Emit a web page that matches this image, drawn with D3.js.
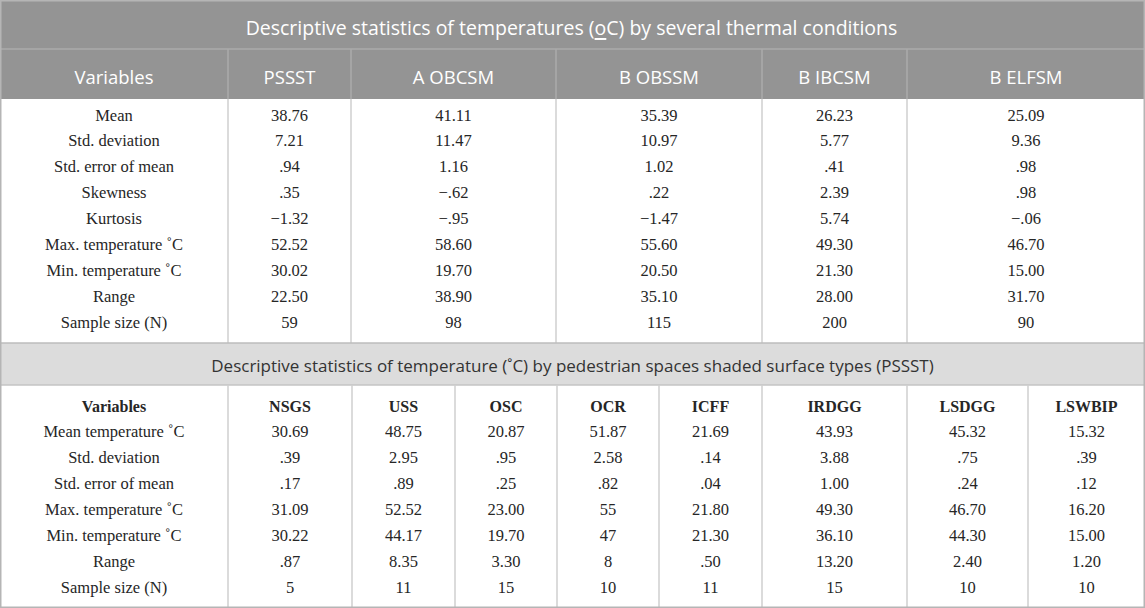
<!DOCTYPE html>
<html>
<head>
<meta charset="utf-8">
<script src="https://cdn.jsdelivr.net/npm/d3@7"></script>
<style>
  body { margin: 0; background: #fff; }
  svg { display: block; }
</style>
</head>
<body>
<div id="table"></div>
<script>
// ---- data: table 1 (thermal conditions) ----
var topTitle = ["Descriptive statistics of temperatures (", "o", "C) by several thermal conditions"];
var topColumns = ["Variables", "PSSST", "A OBCSM", "B OBSSM", "B IBCSM", "B ELFSM"];
var topRows = ["Mean", "Std. deviation", "Std. error of mean", "Skewness", "Kurtosis",
  "Max. temperature \u02DAC", "Min. temperature \u02DAC", "Range", "Sample size (N)"];
var pssst  = ["38.76", "7.21", ".94", ".35", "\u22121.32", "52.52", "30.02", "22.50", "59"];
var aObcsm = ["41.11", "11.47", "1.16", "\u2212.62", "\u2212.95", "58.60", "19.70", "38.90", "98"];
var bObssm = ["35.39", "10.97", "1.02", ".22", "\u22121.47", "55.60", "20.50", "35.10", "115"];
var bIbcsm = ["26.23", "5.77", ".41", "2.39", "5.74", "49.30", "21.30", "28.00", "200"];
var bElfsm = ["25.09", "9.36", ".98", ".98", "\u2212.06", "46.70", "15.00", "31.70", "90"];

// ---- data: table 2 (shaded surface types) ----
var bottomTitle = "Descriptive statistics of temperature (\u02DAC) by pedestrian spaces shaded surface types (PSSST)";
var bottomColumns = ["Variables", "NSGS", "USS", "OSC", "OCR", "ICFF", "IRDGG", "LSDGG", "LSWBIP"];
var bottomRows = ["Mean temperature \u02DAC", "Std. deviation", "Std. error of mean",
  "Max. temperature \u02DAC", "Min. temperature \u02DAC", "Range", "Sample size (N)"];
var nsgs   = ["30.69", ".39", ".17", "31.09", "30.22", ".87", "5"];
var uss    = ["48.75", "2.95", ".89", "52.52", "44.17", "8.35", "11"];
var osc    = ["20.87", ".95", ".25", "23.00", "19.70", "3.30", "15"];
var ocr    = ["51.87", "2.58", ".82", "55", "47", "8", "10"];
var icff   = ["21.69", ".14", ".04", "21.80", "21.30", ".50", "11"];
var irdgg  = ["43.93", "3.88", "1.00", "49.30", "36.10", "13.20", "15"];
var lsdgg  = ["45.32", ".75", ".24", "46.70", "44.30", "2.40", "10"];
var lswbip = ["15.32", ".39", ".12", "16.20", "15.00", "1.20", "10"];

var topSeries = [topRows, pssst, aObcsm, bObssm, bIbcsm, bElfsm];
var bottomSeries = [bottomRows, nsgs, uss, osc, ocr, icff, irdgg, lsdgg, lswbip];

// ---- layout ----
var width = 1145, height = 608;
var sans = "'Open Sans', 'Noto Sans', sans-serif";
var serif = "'Liberation Serif', 'DejaVu Serif', serif";
var bodySize = 16.5;

var svg = d3.select("#table").append("svg")
  .attr("width", width)
  .attr("height", height);

// column edges (left edge of each column, plus the right edge of the table)
var topEdge = d3.scaleOrdinal()
  .domain(topColumns.concat(["end"]))
  .range([0, 228, 351, 556, 762, 907, width]);
var bottomEdge = d3.scaleOrdinal()
  .domain(bottomColumns.concat(["end"]))
  .range([0, 228, 352, 455, 557, 659, 762, 907, 1028, width]);

function colCenter(scale, cols, c) {
  var i = cols.indexOf(c);
  var next = i + 1 < cols.length ? cols[i + 1] : "end";
  return (scale(c) + scale(next)) / 2;
}

// row positions
var topY = d3.scaleLinear().domain([0, topRows.length - 1]).range([115, 322]);
var bottomY = d3.scaleLinear().domain([0, bottomRows.length]).range([406, 587]);

// --- top section ---
svg.append("rect").attr("x", 0).attr("y", 0).attr("width", width).attr("height", 99)
  .attr("fill", "#949494");
svg.append("line").attr("x1", 0).attr("x2", width).attr("y1", 49).attr("y2", 49)
  .attr("stroke", "#ababab").attr("stroke-width", 1.5);

var t = svg.append("text")
  .attr("x", width / 2 - 1).attr("y", 27)
  .attr("text-anchor", "middle").attr("dominant-baseline", "central")
  .attr("font-family", sans).attr("font-size", 19.5).attr("fill", "#fff");
t.append("tspan").text(topTitle[0]);
t.append("tspan").attr("text-decoration", "underline").text(topTitle[1]);
t.append("tspan").text(topTitle[2]);

// header column lines
svg.selectAll(".topHeadLine").data(topColumns.slice(1)).enter().append("line")
  .attr("x1", function(d) { return topEdge(d); })
  .attr("x2", function(d) { return topEdge(d); })
  .attr("y1", 49).attr("y2", 99)
  .attr("stroke", "#ababab").attr("stroke-width", 1.5);

svg.selectAll(".topHead").data(topColumns).enter().append("text")
  .attr("x", function(d) { return colCenter(topEdge, topColumns, d); })
  .attr("y", 76)
  .attr("text-anchor", "middle").attr("dominant-baseline", "central")
  .attr("font-family", sans).attr("font-size", 18.5).attr("fill", "#fff")
  .text(function(d) { return d; });

// body column lines
svg.selectAll(".topBodyLine").data(topColumns.slice(1)).enter().append("line")
  .attr("x1", function(d) { return topEdge(d); })
  .attr("x2", function(d) { return topEdge(d); })
  .attr("y1", 99).attr("y2", 343)
  .attr("stroke", "#cfcfcf").attr("stroke-width", 1.5);

topSeries.forEach(function(col, ci) {
  svg.selectAll(".tc" + ci).data(col).enter().append("text")
    .attr("x", colCenter(topEdge, topColumns, topColumns[ci]))
    .attr("y", function(d, i) { return topY(i); })
    .attr("text-anchor", "middle").attr("dominant-baseline", "central")
    .attr("font-family", serif).attr("font-size", bodySize).attr("fill", "#262626")
    .text(function(d) { return d; });
});

// --- bottom section ---
svg.append("rect").attr("x", 0).attr("y", 343).attr("width", width).attr("height", 42)
  .attr("fill", "#dcdcdc");
svg.append("line").attr("x1", 0).attr("x2", width).attr("y1", 343).attr("y2", 343)
  .attr("stroke", "#bdbdbd").attr("stroke-width", 1.5);
svg.append("line").attr("x1", 0).attr("x2", width).attr("y1", 385).attr("y2", 385)
  .attr("stroke", "#c4c4c4").attr("stroke-width", 1.5);

svg.append("text")
  .attr("x", width / 2).attr("y", 365)
  .attr("text-anchor", "middle").attr("dominant-baseline", "central")
  .attr("font-family", sans).attr("font-size", 17).attr("fill", "#333")
  .text(bottomTitle);

svg.selectAll(".botLine").data(bottomColumns.slice(1)).enter().append("line")
  .attr("x1", function(d) { return bottomEdge(d); })
  .attr("x2", function(d) { return bottomEdge(d); })
  .attr("y1", 385).attr("y2", 607)
  .attr("stroke", "#cfcfcf").attr("stroke-width", 1.5);

svg.selectAll(".botHead").data(bottomColumns).enter().append("text")
  .attr("x", function(d) { return colCenter(bottomEdge, bottomColumns, d); })
  .attr("y", bottomY(0))
  .attr("text-anchor", "middle").attr("dominant-baseline", "central")
  .attr("font-family", serif).attr("font-size", 16).attr("font-weight", "bold")
  .attr("fill", "#262626")
  .text(function(d) { return d; });

bottomSeries.forEach(function(col, ci) {
  svg.selectAll(".bc" + ci).data(col).enter().append("text")
    .attr("x", colCenter(bottomEdge, bottomColumns, bottomColumns[ci]))
    .attr("y", function(d, i) { return bottomY(i + 1); })
    .attr("text-anchor", "middle").attr("dominant-baseline", "central")
    .attr("font-family", serif).attr("font-size", bodySize).attr("fill", "#262626")
    .text(function(d) { return d; });
});

// outer border
svg.append("rect").attr("x", 0.75).attr("y", 0.75)
  .attr("width", width - 1.5).attr("height", height - 1.5)
  .attr("fill", "none").attr("stroke", "#b5b5b5").attr("stroke-width", 1.5);
</script>
</body>
</html>
